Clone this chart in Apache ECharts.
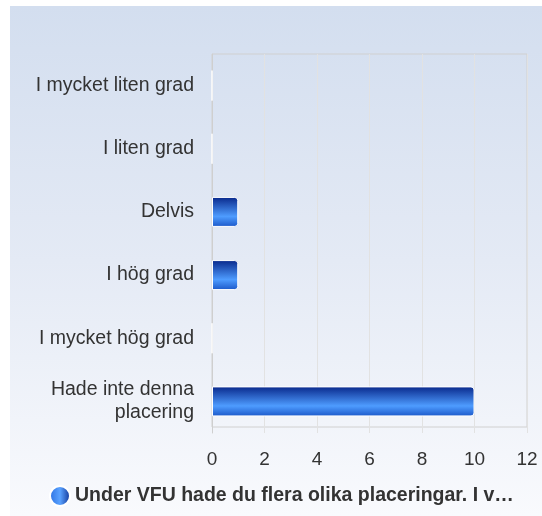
<!DOCTYPE html>
<html>
<head>
<meta charset="utf-8">
<script src="https://cdn.jsdelivr.net/npm/echarts@6/dist/echarts.min.js"></script>
<style>
  html, body { margin: 0; padding: 0; background: #fff; }
  #chart {
    position: absolute; left: 10px; top: 6px;
    width: 532px; height: 510px;
    background: linear-gradient(to bottom, #d3deef 0%, #e4eaf5 50%, #f9fafd 100%);
  }
</style>
</head>
<body>
<div id="chart"></div>
<script>
const categories = ['I mycket liten grad', 'I liten grad', 'Delvis', 'I hög grad', 'I mycket hög grad', 'Hade inte denna\nplacering'];
const values = [0, 0, 1, 1, 0, 10];
const seriesName = 'Under VFU hade du flera olika placeringar. I v…';
const xTicks = [0, 2, 4, 6, 8, 10, 12];

const myChart = echarts.init(document.getElementById('chart'));
const barFill = new echarts.graphic.LinearGradient(0, 0, 0, 1, [
  { offset: 0, color: '#08278a' },
  { offset: 0.65, color: '#4e9cff' },
  { offset: 1, color: '#1a57c8' }
]);
const option = {
  animation: false,
  grid: { left: 202, top: 48, right: 15, bottom: 83 },
  xAxis: {
    type: 'value',
    min: xTicks[0],
    max: xTicks[xTicks.length - 1],
    interval: 2,
    axisLine: { show: false },
    axisTick: { show: false },
    axisLabel: { color: '#333', fontSize: 19, fontFamily: 'Liberation Sans', margin: 17 },
    splitLine: { lineStyle: { color: '#e2e2e2' } }
  },
  yAxis: {
    type: 'category',
    inverse: true,
    data: categories,
    axisLine: { show: true, lineStyle: { color: '#cfcfcf' } },
    axisTick: { show: false },
    axisLabel: { color: '#333', fontSize: 19.5, fontFamily: 'Liberation Sans', margin: 18, lineHeight: 23 }
  },
  graphic: [{
    type: 'rect',
    shape: { x: 202, y: 48, width: 315, height: 373 },
    style: { fill: 'none', stroke: '#d0d0d0', lineWidth: 1 },
    silent: true
  }],
  legend: {
    bottom: 4,
    left: 34,
    icon: 'circle',
    itemWidth: 20,
    itemHeight: 20,
    itemGap: 6,
    textStyle: { color: '#333', fontSize: 19.5, fontWeight: 'bold', fontFamily: 'Liberation Sans' },
    data: [{
      name: seriesName,
      itemStyle: {
        color: new echarts.graphic.LinearGradient(0, 0, 1, 0, [
          { offset: 0, color: '#2a6fe0' },
          { offset: 0.5, color: '#5aa2ff' },
          { offset: 1, color: '#0c2f92' }
        ])
      }
    }]
  },
  series: [{
    name: seriesName,
    type: 'bar',
    data: values,
    barWidth: 30,
    itemStyle: {
      color: barFill,
      borderColor: '#ffffff',
      borderWidth: 1,
      borderRadius: [0, 3, 3, 0]
    }
  }]
};
myChart.setOption(option);
</script>
</body>
</html>
